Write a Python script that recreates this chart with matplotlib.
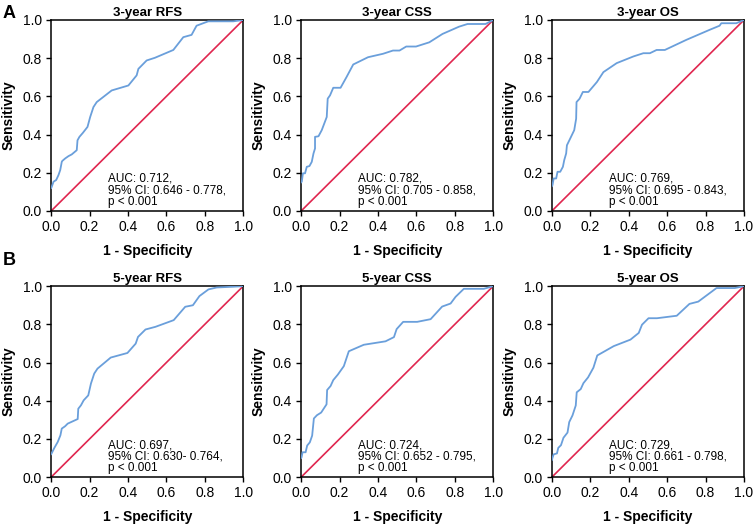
import matplotlib
matplotlib.use("Agg")
import matplotlib.pyplot as plt

plt.rcParams['font.family'] = ['Liberation Sans', 'DejaVu Sans']

# ROC curves (1 - specificity, sensitivity)
rfs3_x = [0, 0.003, 0.012, 0.026, 0.038, 0.047, 0.055, 0.058, 0.073, 0.09, 0.107, 0.133, 0.137,
          0.147, 0.165, 0.189, 0.203, 0.22, 0.237, 0.315, 0.402, 0.445, 0.454, 0.497, 0.54,
          0.636, 0.688, 0.731, 0.757, 0.818, 0.948, 1.0]
rfs3_y = [0.12, 0.127, 0.153, 0.162, 0.188, 0.214, 0.257, 0.262, 0.275, 0.287, 0.296, 0.318, 0.370,
          0.388, 0.409, 0.44, 0.492, 0.544, 0.570, 0.631, 0.657, 0.710, 0.744, 0.788, 0.802,
          0.843, 0.91, 0.922, 0.97, 0.993, 0.993, 1.0]

css3_x = [0, 0.003, 0.009, 0.02, 0.029, 0.043, 0.055, 0.064, 0.072, 0.072, 0.09, 0.107, 0.133,
          0.138, 0.15, 0.167, 0.205, 0.236, 0.271, 0.348, 0.426, 0.478, 0.512, 0.547, 0.598,
          0.667, 0.736, 0.822, 0.866, 0.96, 1.0]
css3_y = [0.15, 0.153, 0.197, 0.197, 0.231, 0.235, 0.257, 0.301, 0.327, 0.388, 0.391, 0.423, 0.492,
          0.588, 0.605, 0.645, 0.645, 0.701, 0.767, 0.805, 0.823, 0.840, 0.840, 0.861, 0.861,
          0.883, 0.927, 0.965, 0.979, 0.979, 1.0]

os3_x = [0, 0.003, 0.009, 0.022, 0.029, 0.043, 0.057, 0.064, 0.074, 0.078, 0.095, 0.116, 0.126,
         0.128, 0.144, 0.161, 0.19, 0.234, 0.268, 0.337, 0.424, 0.476, 0.51, 0.545, 0.588,
         0.7, 0.82, 0.873, 0.882, 0.96, 1.0]
os3_y = [0.13, 0.136, 0.170, 0.170, 0.205, 0.205, 0.231, 0.266, 0.301, 0.344, 0.379, 0.423, 0.483,
         0.570, 0.588, 0.623, 0.623, 0.675, 0.727, 0.774, 0.809, 0.826, 0.826, 0.843, 0.843,
         0.896, 0.948, 0.97, 0.983, 0.983, 1.0]

rfs5_x = [0, 0.003, 0.017, 0.034, 0.048, 0.055, 0.072, 0.086, 0.112, 0.138, 0.141, 0.155, 0.169,
          0.193, 0.207, 0.224, 0.241, 0.31, 0.397, 0.440, 0.452, 0.491, 0.543, 0.638, 0.698,
          0.738, 0.772, 0.819, 0.862, 0.948, 1.0]
rfs5_y = [0.12, 0.126, 0.154, 0.184, 0.219, 0.254, 0.266, 0.280, 0.292, 0.304, 0.358, 0.376, 0.402,
          0.428, 0.49, 0.542, 0.568, 0.626, 0.650, 0.699, 0.734, 0.773, 0.787, 0.822, 0.892,
          0.9, 0.948, 0.983, 0.993, 0.997, 1.0]

css5_x = [0, 0.002, 0.007, 0.023, 0.031, 0.045, 0.057, 0.066, 0.082, 0.104, 0.132, 0.135, 0.153,
          0.167, 0.191, 0.222, 0.248, 0.326, 0.439, 0.483, 0.497, 0.531, 0.604, 0.674, 0.734,
          0.778, 0.804, 0.847, 0.951, 1.0]
css5_y = [0.10, 0.104, 0.130, 0.130, 0.165, 0.182, 0.217, 0.307, 0.324, 0.338, 0.381, 0.456, 0.477,
          0.508, 0.537, 0.581, 0.659, 0.693, 0.711, 0.733, 0.775, 0.813, 0.813, 0.827, 0.893,
          0.909, 0.944, 0.986, 0.986, 1.0]

os5_x = [0, 0.003, 0.009, 0.026, 0.033, 0.047, 0.060, 0.081, 0.09, 0.107, 0.124, 0.129, 0.15,
         0.164, 0.188, 0.216, 0.236, 0.322, 0.409, 0.452, 0.469, 0.503, 0.547, 0.65, 0.716,
         0.762, 0.857, 0.952, 1.0]
os5_y = [0.09, 0.102, 0.119, 0.124, 0.153, 0.167, 0.206, 0.233, 0.288, 0.323, 0.375, 0.444, 0.461,
         0.492, 0.522, 0.573, 0.637, 0.686, 0.72, 0.755, 0.798, 0.832, 0.832, 0.845, 0.907,
         0.919, 0.99, 0.99, 1.0]

titles = ['3-year RFS', '3-year CSS', '3-year OS', '5-year RFS', '5-year CSS', '5-year OS']
curves_x = [rfs3_x, css3_x, os3_x, rfs5_x, css5_x, os5_x]
curves_y = [rfs3_y, css3_y, os3_y, rfs5_y, css5_y, os5_y]
notes = ['AUC: 0.712,\n95% CI: 0.646 - 0.778,\np < 0.001',
         'AUC: 0.782,\n95% CI: 0.705 - 0.858,\np < 0.001',
         'AUC: 0.769,\n95% CI: 0.695 - 0.843,\np < 0.001',
         'AUC: 0.697,\n95% CI: 0.630- 0.764,\np < 0.001',
         'AUC: 0.724,\n95% CI: 0.652 - 0.795,\np < 0.001',
         'AUC: 0.729,\n95% CI: 0.661 - 0.798,\np < 0.001']

ticks = [0.0, 0.2, 0.4, 0.6, 0.8, 1.0]
tick_labels = ['0.0', '0.2', '0.4', '0.6', '0.8', '1.0']

fig = plt.figure(figsize=(7.53, 5.26), dpi=100)

lefts = [0.068, 0.400, 0.733]
bottoms = [0.599, 0.093]
w, h = 0.255, 0.363

for i in range(6):
    row, col = divmod(i, 3)
    ax = fig.add_axes([lefts[col], bottoms[row], w, h])
    ax.plot([0, 1], [0, 1], color='#e0264f', lw=1.2, zorder=2)
    ax.plot(curves_x[i], curves_y[i], color='#6a9fdb', lw=1.3, zorder=3)
    ax.set_xlim(0, 1)
    ax.set_ylim(0, 1)
    ax.set_xticks(ticks)
    ax.set_xticklabels(tick_labels)
    ax.set_yticks(ticks)
    ax.set_yticklabels(tick_labels)
    ax.tick_params(direction='out', length=3.5, width=1, labelsize=10, pad=3)
    for s in ax.spines.values():
        s.set_linewidth(1.1)
    ax.set_title(titles[i], fontsize=9.5, fontweight='bold', pad=3)
    ax.set_xlabel('1 - Specificity', fontsize=10, fontweight='bold', labelpad=7)
    ax.set_ylabel('Sensitivity', fontsize=10, fontweight='bold', labelpad=5)
    ax.text(0.295, 0.015, notes[i], transform=ax.transAxes, fontsize=8.5,
            ha='left', va='bottom', linespacing=0.95)

fig.text(0.004, 0.975, 'A', fontsize=13, fontweight='bold', ha='left', va='center')
fig.text(0.004, 0.504, 'B', fontsize=13, fontweight='bold', ha='left', va='center')

plt.savefig('out.png', dpi=100)
